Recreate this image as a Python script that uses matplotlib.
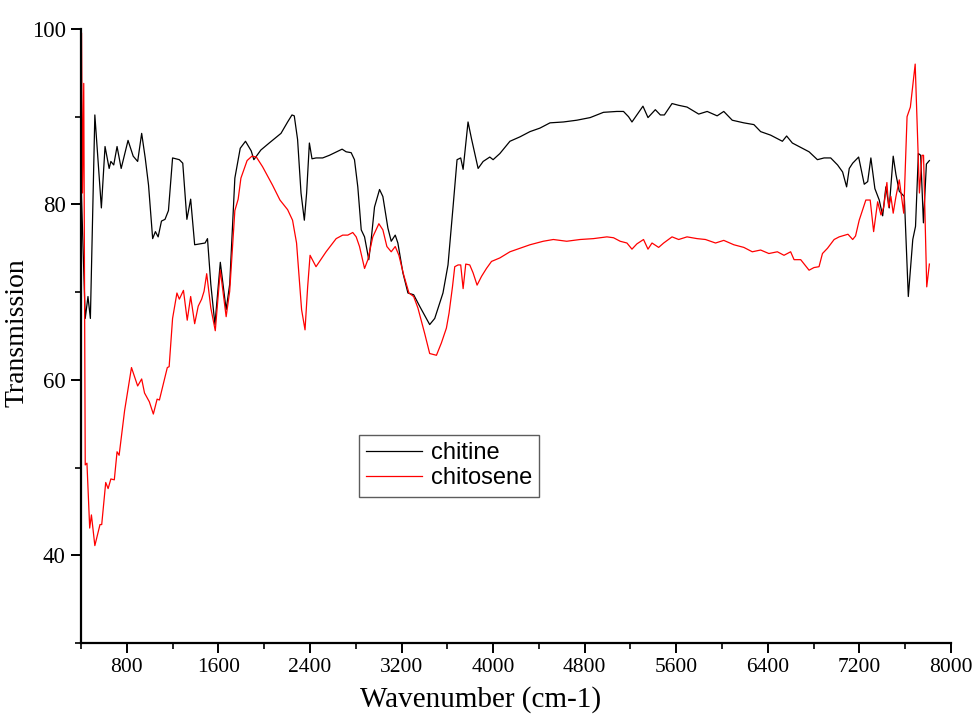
import matplotlib
matplotlib.use("Agg")
import matplotlib.pyplot as plt
from matplotlib.ticker import MultipleLocator

# FTIR transmission spectra
wn_chitine = [403, 437, 461, 482, 521, 578, 610, 646, 661, 686, 715, 751, 811, 856, 895, 930,
              961, 990, 1026, 1050, 1074, 1103, 1134, 1164, 1200, 1259, 1289, 1325, 1358, 1393,
              1484, 1505, 1534, 1570, 1617, 1668, 1699, 1744, 1791, 1837, 1887, 1910, 1971, 2044,
              2147, 2205, 2243, 2263, 2292, 2322, 2351, 2371, 2395, 2418, 2453, 2511, 2570, 2634,
              2681, 2716, 2760, 2789, 2818, 2848, 2877, 2914, 2935, 2964, 3008, 3037, 3081, 3110,
              3145, 3168, 3212, 3256, 3306, 3358, 3446, 3490, 3562, 3606, 3650, 3685, 3717, 3738,
              3781, 3811, 3869, 3913, 3971, 4000, 4059, 4147, 4234, 4322, 4409, 4497, 4614, 4731,
              4848, 4964, 5081, 5139, 5183, 5213, 5309, 5353, 5417, 5461, 5496, 5563, 5621, 5694,
              5796, 5870, 5957, 6015, 6089, 6190, 6278, 6337, 6424, 6483, 6527, 6564, 6614, 6687,
              6760, 6833, 6891, 6949, 7009, 7053, 7088, 7111, 7141, 7193, 7242, 7272, 7300, 7335,
              7373, 7403, 7431, 7460, 7495, 7519, 7548, 7592, 7627, 7666, 7690, 7715, 7735, 7759,
              7785, 7811]
t_chitine = [81.5, 67.0, 69.5, 67.0, 90.2, 79.6, 86.6, 84.1, 84.9, 84.5, 86.6, 84.1, 87.3, 85.5,
             84.9, 88.1, 85.3, 82.2, 76.1, 76.9, 76.3, 78.1, 78.3, 79.3, 85.3, 85.1, 84.7, 78.3,
             80.6, 75.4, 75.6, 76.1, 70.9, 66.3, 73.4, 68.0, 70.9, 83.0, 86.4, 87.2, 86.1, 85.1,
             86.2, 87.0, 88.1, 89.4, 90.2, 90.1, 87.4, 81.3, 78.2, 81.3, 87.0, 85.2, 85.3, 85.3,
             85.6, 86.0, 86.3, 86.0, 85.9, 85.1, 82.0, 77.1, 76.3, 73.7, 76.0, 79.7, 81.7, 80.9,
             77.3, 75.8, 76.5, 75.6, 72.2, 69.9, 69.7, 68.4, 66.3, 67.0, 69.9, 73.1, 79.7, 85.1,
             85.3, 84.0, 89.4, 87.5, 84.1, 84.9, 85.4, 85.1, 85.8, 87.2, 87.7, 88.3, 88.7, 89.3,
             89.4, 89.6, 89.9, 90.5, 90.6, 90.6, 90.0, 89.4, 91.2, 89.9, 90.8, 90.2, 90.2, 91.5,
             91.3, 91.1, 90.3, 90.6, 90.1, 90.6, 89.6, 89.3, 89.1, 88.3, 87.9, 87.5, 87.2, 87.8,
             87.0, 86.5, 86.0, 85.1, 85.3, 85.3, 84.5, 83.7, 82.0, 84.1, 84.7, 85.4, 82.3, 82.6,
             85.3, 81.8, 80.5, 78.7, 82.0, 79.6, 85.5, 83.4, 81.5, 80.9, 69.5, 76.0, 77.5, 85.8,
             85.6, 77.9, 84.6, 85.0]

wn_chitosene = [405, 413, 424, 437, 452, 476, 491, 521, 566, 581, 616, 637, 661, 691, 715, 733,
                781, 841, 895, 930, 955, 997, 1032, 1065, 1085, 1154, 1170, 1200, 1238, 1259,
                1295, 1328, 1358, 1393, 1424, 1454, 1475, 1498, 1534, 1573, 1617, 1668, 1699,
                1744, 1773, 1797, 1827, 1851, 1893, 1932, 1986, 2073, 2138, 2205, 2248, 2283,
                2307, 2327, 2357, 2380, 2401, 2453, 2541, 2629, 2686, 2731, 2774, 2804, 2833,
                2877, 2906, 2949, 3002, 3037, 3072, 3110, 3145, 3177, 3218, 3265, 3306, 3343,
                3402, 3446, 3505, 3548, 3592, 3615, 3645, 3665, 3694, 3717, 3738, 3761, 3796,
                3825, 3860, 3899, 3942, 3986, 4059, 4147, 4234, 4322, 4438, 4526, 4643, 4760,
                4876, 4994, 5052, 5110, 5169, 5213, 5256, 5314, 5353, 5388, 5446, 5490, 5563,
                5621, 5694, 5782, 5855, 5943, 6015, 6103, 6190, 6264, 6337, 6409, 6483, 6541,
                6599, 6629, 6687, 6760, 6803, 6847, 6877, 6921, 6979, 7023, 7100, 7141, 7166,
                7198, 7256, 7294, 7324, 7359, 7388, 7412, 7440, 7455, 7475, 7495, 7519, 7548,
                7587, 7616, 7645, 7687, 7724, 7747, 7760, 7788, 7811]
t_chitosene = [99.5, 81.3, 93.8, 50.3, 50.5, 43.1, 44.6, 41.1, 43.5, 43.5, 48.3, 47.6, 48.7,
               48.6, 51.8, 51.4, 56.5, 61.4, 59.3, 60.1, 58.5, 57.5, 56.1, 57.8, 57.7, 61.4,
               61.5, 67.0, 69.9, 69.2, 70.2, 66.8, 69.5, 66.4, 68.4, 69.2, 70.1, 72.1, 68.2,
               65.6, 72.5, 67.2, 70.1, 79.3, 80.6, 83.0, 84.1, 85.0, 85.5, 85.4, 84.3, 82.2,
               80.5, 79.4, 78.2, 75.6, 71.4, 68.0, 65.7, 70.6, 74.2, 72.9, 74.6, 76.1, 76.5,
               76.5, 76.8, 76.3, 75.2, 72.7, 73.7, 76.3, 77.8, 77.1, 75.2, 74.6, 75.2, 74.2,
               72.0, 69.9, 69.5, 68.2, 65.3, 63.0, 62.8, 64.2, 65.9, 67.6, 70.6, 72.9, 73.1,
               73.1, 70.4, 73.2, 73.1, 72.2, 70.8, 71.8, 72.7, 73.5, 73.9, 74.6, 75.0, 75.4,
               75.8, 76.0, 75.8, 76.0, 76.1, 76.3, 76.2, 75.8, 75.6, 74.9, 75.5, 76.0, 74.9,
               75.6, 75.1, 75.6, 76.3, 76.0, 76.3, 76.1, 76.0, 75.6, 75.9, 75.4, 75.1, 74.6,
               74.8, 74.4, 74.6, 74.2, 74.6, 73.7, 73.7, 72.5, 72.8, 72.9, 74.4, 75.0, 76.0,
               76.3, 76.6, 76.0, 76.4, 78.2, 80.5, 80.5, 76.9, 80.3, 78.8, 79.7, 82.5, 79.7,
               80.9, 79.0, 80.9, 82.8, 79.0, 90.0, 91.1, 96.0, 81.3, 85.6, 85.6, 70.6, 73.2]

fig = plt.figure(figsize=(9.77, 7.16), dpi=100)
ax = fig.add_axes([0.0829, 0.102, 0.8905, 0.8575])

ax.plot(wn_chitine, t_chitine, color="black", lw=0.9, label="chitine")
ax.plot(wn_chitosene, t_chitosene, color="red", lw=0.9, label="chitosene")

ax.set_xlim(400, 8000)
ax.set_ylim(30, 100)
ax.xaxis.set_minor_locator(MultipleLocator(400))
ax.yaxis.set_minor_locator(MultipleLocator(10))
ax.set_xticks([800, 1600, 2400, 3200, 4000, 4800, 5600, 6400, 7200, 8000])
ax.set_yticks([40, 60, 80, 100])

for side in ("top", "right"):
    ax.spines[side].set_visible(False)
for side in ("left", "bottom"):
    ax.spines[side].set_linewidth(1.6)

serif = "Liberation Serif"
ax.tick_params(which="major", direction="out", length=7, width=1.4, pad=4)
ax.tick_params(which="minor", direction="out", length=4, width=1.2)
for lbl in ax.get_xticklabels():
    lbl.set_fontfamily(serif)
    lbl.set_fontsize(15.5)
for lbl in ax.get_yticklabels():
    lbl.set_fontfamily(serif)
    lbl.set_fontsize(16.5)

ax.set_xlabel("Wavenumber (cm-1)", fontfamily=serif, fontsize=21)
ax.set_ylabel("Transmission", fontfamily=serif, fontsize=20)
ax.xaxis.set_label_coords(0.459, -0.070)
ax.yaxis.set_label_coords(-0.059, 0.505)

leg = ax.legend(loc="upper left", bbox_to_anchor=(0.319, 0.339),
                prop={"family": "Liberation Sans", "size": 17},
                frameon=True, fancybox=False, handlelength=2.4,
                borderpad=0.3, labelspacing=0.15, handletextpad=0.35,
                borderaxespad=0.0)
leg.get_frame().set_edgecolor("#333333")
leg.get_frame().set_linewidth(1.0)

fig.savefig("out.png", dpi=100)
